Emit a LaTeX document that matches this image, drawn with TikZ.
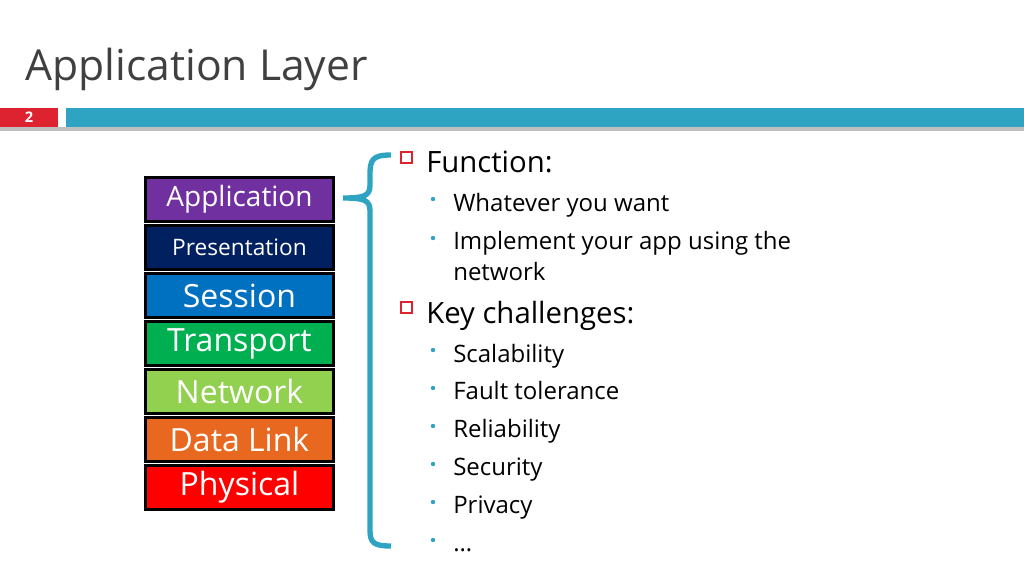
\documentclass[tikz,border=0pt]{standalone}
\usepackage{fontspec}
\setmainfont{Open Sans}
\usetikzlibrary{positioning}
\definecolor{teal}{RGB}{46,163,194}
\definecolor{slidered}{RGB}{221,35,48}
\definecolor{titlegray}{RGB}{64,64,64}
\begin{document}
\begin{tikzpicture}[x=0.75pt,y=-0.75pt,
    layer/.style={draw=black, line width=2.2pt, minimum width=188*0.75pt, minimum height=44*0.75pt, inner sep=0pt, text=white, anchor=north west},
    main/.style={anchor=base west, font=\fontsize{22}{26}\selectfont, text=black, inner sep=0pt},
    sub/.style={anchor=base west, font=\fontsize{18}{22}\selectfont, text=black, inner sep=0pt}
  ]
  \useasboundingbox (0,0) rectangle (1024,575);
  % title and header bar
  \node[anchor=base west, inner sep=0pt, text=titlegray, font=\fontsize{32}{36}\selectfont] (title) at (25,80) {Application Layer};
  \fill[gray!50] (0,127) rectangle (1024,131);
  \fill[slidered] (0,108) rectangle (58,127);
  \fill[teal] (66,108) rectangle (1024,127);
  \node[text=white, font=\bfseries\fontsize{11}{12}\selectfont] (num) at (29,117.5) {2};
  % OSI stack
  \node[layer, fill={rgb,255:red,112;green,48;blue,160}, font=\fontsize{21}{24}\selectfont] (app) at (144,176) {Application};
  \node[layer, fill={rgb,255:red,0;green,32;blue,96}, font=\fontsize{17}{20}\selectfont] (pres) at (144,224) {Presentation};
  \node[layer, fill={rgb,255:red,0;green,112;blue,192}, font=\fontsize{24}{28}\selectfont] (sess) at (144,272) {Session};
  \node[layer, fill={rgb,255:red,0;green,176;blue,80}, font=\fontsize{24}{28}\selectfont] (trans) at (144,320) {Transport};
  \node[layer, fill={rgb,255:red,146;green,208;blue,80}, font=\fontsize{24}{28}\selectfont] (net) at (144,368) {Network};
  \node[layer, fill={rgb,255:red,232;green,104;blue,32}, font=\fontsize{24}{28}\selectfont] (link) at (144,416) {Data Link};
  \node[layer, fill={rgb,255:red,255;green,0;blue,0}, font=\fontsize{24}{28}\selectfont] (phys) at (144,464) {Physical};
  % brace
  \coordinate (tip) at (343,198);
  \draw[teal, line width=4pt] (391,155) .. controls (372,155) and (370,160) .. (370,175)
    -- (370,185) .. controls (370,196) and (364,198) .. (tip)
    (tip) .. controls (364,198) and (370,200) .. (370,211)
    -- (370,530) .. controls (370,543) and (374,546) .. (391,546);
  % bullets
  \foreach \y in {152,302} \draw[slidered, line width=0.8pt] (401,\y) rectangle (412,\y+11);
  \foreach \y in {199,238,350,388,426,464,502,540} \fill[teal] (433,\y) circle (2.2);
  \node[main] (func) at (426,172) {Function:};
  \node[sub] (want) at (453,211) {Whatever you want};
  \node[sub] (impl) at (453,249) {Implement your app using the};
  \node[sub] (impl2) at (453,280) {network};
  \node[main] (key) at (426,323) {Key challenges:};
  \node[sub] (scal) at (453,362) {Scalability};
  \node[sub] (fault) at (453,399) {Fault tolerance};
  \node[sub] (rel) at (453,437) {Reliability};
  \node[sub] (sec) at (453,475) {Security};
  \node[sub] (priv) at (453,513) {Privacy};
  \node[sub] (etc) at (453,551) {\dots};
\end{tikzpicture}
\end{document}
